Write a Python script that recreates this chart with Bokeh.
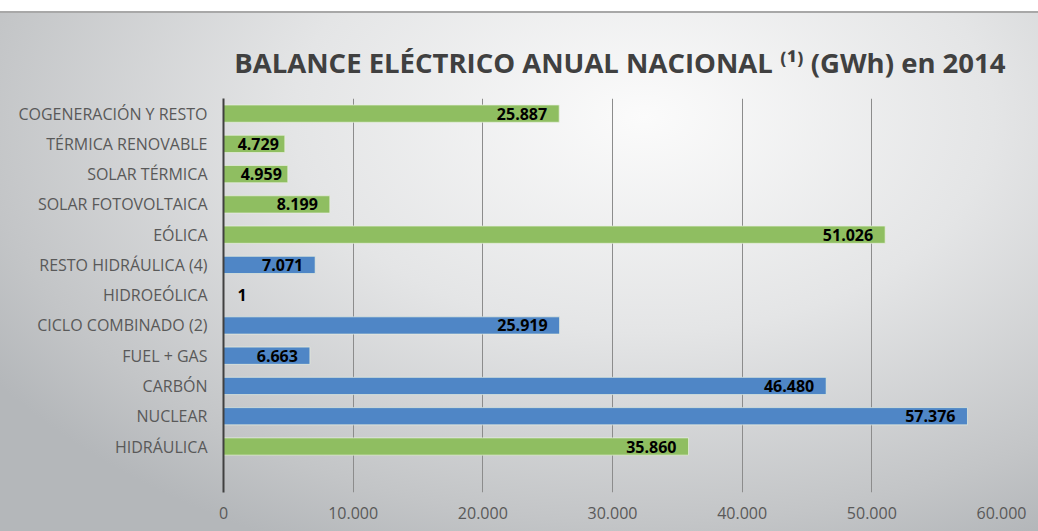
from bokeh.plotting import figure
from bokeh.models import ColumnDataSource, Range1d, FixedTicker, Title, LabelSet
from bokeh.core.properties import value
from bokeh.embed import file_html
from bokeh.resources import INLINE

categories = ["HIDRÁULICA", "NUCLEAR", "CARBÓN", "FUEL + GAS", "CICLO COMBINADO (2)",
              "HIDROEÓLICA", "RESTO HIDRÁULICA (4)", "EÓLICA", "SOLAR FOTOVOLTAICA",
              "SOLAR TÉRMICA", "TÉRMICA RENOVABLE", "COGENERACIÓN Y RESTO"]
values = [35860, 57376, 46480, 6663, 25919, 1, 7071, 51026, 8199, 4959, 4729, 25887]
groups = ["renovable", "no renovable", "no renovable", "no renovable", "no renovable",
          "renovable", "no renovable", "renovable", "renovable", "renovable", "renovable", "renovable"]
x_ticks = [0, 10000, 20000, 30000, 40000, 50000, 60000]

GREEN = "#8FBE61"
BLUE = "#4F86C6"

def fmt(v):
    return f"{v:,}".replace(",", ".")

pos = list(range(1, len(categories) + 1))
colors = [GREEN if g == "renovable" else BLUE for g in groups]
labels = [fmt(v) for v in values]
aligns = ["left" if v < 3000 else "right" for v in values]
offsets = [14 if v < 3000 else (-6 if v < 6000 else -12) for v in values]

src = ColumnDataSource(dict(y=pos, v=values, color=colors, label=labels,
                            align=aligns, off=offsets,
                            xanchor=[0 if v < 3000 else v for v in values]))

p = figure(width=1038, height=531, output_backend="svg", toolbar_location=None,
           x_range=Range1d(0, 60000), y_range=Range1d(-0.52, 12.5),
           min_border_left=223, min_border_right=37, min_border_top=98,
           min_border_bottom=39)

p.background_fill_alpha = 0
p.border_fill_alpha = 0
p.outline_line_color = None
p.styles = {
    "background": ("linear-gradient(to bottom, #ffffff 0px, #ffffff 11px, #a8a8a8 11px, "
                   "#a8a8a8 13px, rgba(0,0,0,0) 13px), "
                   "radial-gradient(ellipse 75% 90% at 62% 22%, #fbfbfb 0%, #e4e5e6 45%, "
                   "#c3c5c7 85%, #b4b7ba 100%)"),
}

p.add_layout(Title(text="BALANCE ELÉCTRICO ANUAL NACIONAL ⁽¹⁾ (GWh) en 2014",
                   text_font="Open Sans", text_font_size="27.5px", text_font_style="bold",
                   text_color="#404040", align="right", standoff=36, offset=-4), "above")

p.hbar(y="y", right="v", left=0, height=0.57, source=src, fill_color="color",
       line_color="#e8f0e0", line_alpha=0.7, line_width=1)

p.add_layout(LabelSet(x="xanchor", y="y", text="label", source=src,
                      x_offset="off", text_align="align", text_baseline="middle",
                      text_font=value("Open Sans"), text_font_size="16px",
                      text_font_style="bold", text_color="#000000"))

# x axis
p.xaxis.ticker = FixedTicker(ticks=x_ticks)
p.xaxis.major_label_overrides = {t: fmt(t) for t in x_ticks}
p.xaxis.axis_line_color = None
p.xaxis.major_tick_line_color = None
p.xaxis.minor_tick_line_color = None
p.xaxis.major_label_text_font = "Open Sans"
p.xaxis.major_label_text_font_size = "16px"
p.xaxis.major_label_text_color = "#595959"
p.xaxis.major_label_standoff = 8

# y axis
p.yaxis.ticker = FixedTicker(ticks=pos)
p.yaxis.major_label_overrides = {i: c for i, c in zip(pos, categories)}
p.yaxis.axis_line_color = "#404040"
p.yaxis.axis_line_width = 2
p.yaxis.major_tick_line_color = None
p.yaxis.minor_tick_line_color = None
p.yaxis.major_label_text_font = "Open Sans"
p.yaxis.major_label_text_font_size = "16px"
p.yaxis.major_label_text_color = "#595959"
p.yaxis.major_label_standoff = 10

p.xgrid.ticker = FixedTicker(ticks=x_ticks)
p.xgrid.grid_line_color = "#8c8c8c"
p.xgrid.grid_line_width = 1
p.ygrid.grid_line_color = None

open("out.html", "w").write(file_html(p, INLINE))
